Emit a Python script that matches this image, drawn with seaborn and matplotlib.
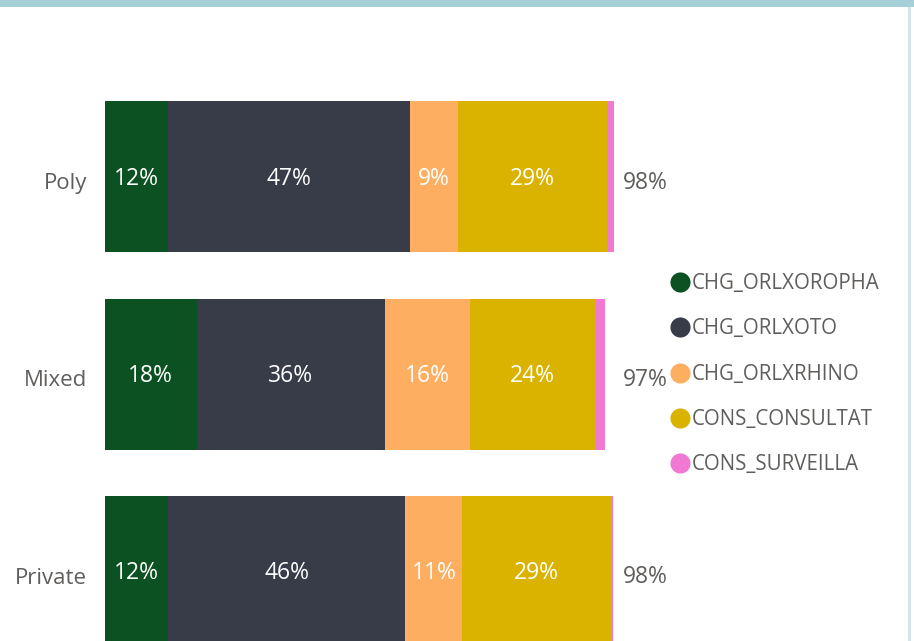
import matplotlib
matplotlib.use("Agg")
import matplotlib.pyplot as plt
from matplotlib.patches import Rectangle
from matplotlib.lines import Line2D
from matplotlib.transforms import ScaledTranslation
import numpy as np
import pandas as pd
import seaborn as sns

# data (percent of total)
categories = ["Poly", "Mixed", "Private"]
series = ["CHG_ORLXOROPHA", "CHG_ORLXOTO", "CHG_ORLXRHINO", "CONS_CONSULTAT", "CONS_SURVEILLA"]
orolpha = [12.2, 17.7, 12.2]
oto = [46.7, 36.3, 45.8]
rhino = [9.3, 16.4, 11.0]
consultat = [28.8, 24.4, 28.6]
surveilla = [1.2, 1.8, 0.5]

colors = ["#0C5121", "#373C48", "#FDAE61", "#D9B300", "#F178D3"]
grey = "#605E5C"

sns.set_theme(style="white")
plt.rcParams["font.family"] = ["Open Sans", "DejaVu Sans"]

df = pd.DataFrame({s: v for s, v in zip(series, [orolpha, oto, rhino, consultat, surveilla])},
                  index=categories)
cum = df.cumsum(axis=1)

fig = plt.figure(figsize=(9.14, 6.41), dpi=100)
ax = fig.add_axes([105 / 914, 0, 518 / 914, (641 - 78) / 641])

# stacked bars: draw cumulative totals from the largest down
for s, c in reversed(list(zip(series, colors))):
    sns.barplot(x=cum[s].values, y=categories, color=c, orient="h",
                width=0.765, linewidth=0, saturation=1, ax=ax)

ax.set_xlim(0, 100)
ax.set_ylim(2.352, -0.5)
sns.despine(ax=ax, left=True, bottom=True)
ax.set_xticks([])
ax.set_xlabel("")
ax.tick_params(axis="y", length=0, pad=13, labelsize=16, labelcolor=grey)
shift = ScaledTranslation(0, -4 / 100, fig.dpi_scale_trans)
for lab in ax.get_yticklabels():
    lab.set_transform(lab.get_transform() + shift)

# segment labels
for i, cat in enumerate(categories):
    left = 0
    for s in series:
        w = df.loc[cat, s]
        if w >= 5:
            ax.text(left + w / 2, i + 0.01, f"{w:.0f}%", ha="center", va="center",
                    color="white", fontsize=16.5)
        left += w
    total = df.loc[cat].sum()
    ax.text(100, i + 0.03, f"{total:.0f}%", ha="left", va="center",
            color=grey, fontsize=16.5)

# legend
handles = [Line2D([0], [0], marker="o", linestyle="", markersize=14.5,
                  markerfacecolor=c, markeredgewidth=0) for c in colors]
fig.legend(handles, series, loc="upper left", bbox_to_anchor=(655 / 914, 1 - 265 / 641),
           frameon=False, handletextpad=-0.2, handlelength=1.6, labelspacing=1.18,
           fontsize=14.8, labelcolor=grey, borderaxespad=0)

# frame lines of the original visual
fig.add_artist(Rectangle((0, 1 - 7 / 641), 1, 7 / 641, transform=fig.transFigure,
                         color="#A6D0D8", lw=0))
fig.add_artist(Rectangle((908 / 914, 0), 3 / 914, 1 - 7 / 641, transform=fig.transFigure,
                         color="#D3E7EB", lw=0))

fig.savefig("out.png", dpi=100)
